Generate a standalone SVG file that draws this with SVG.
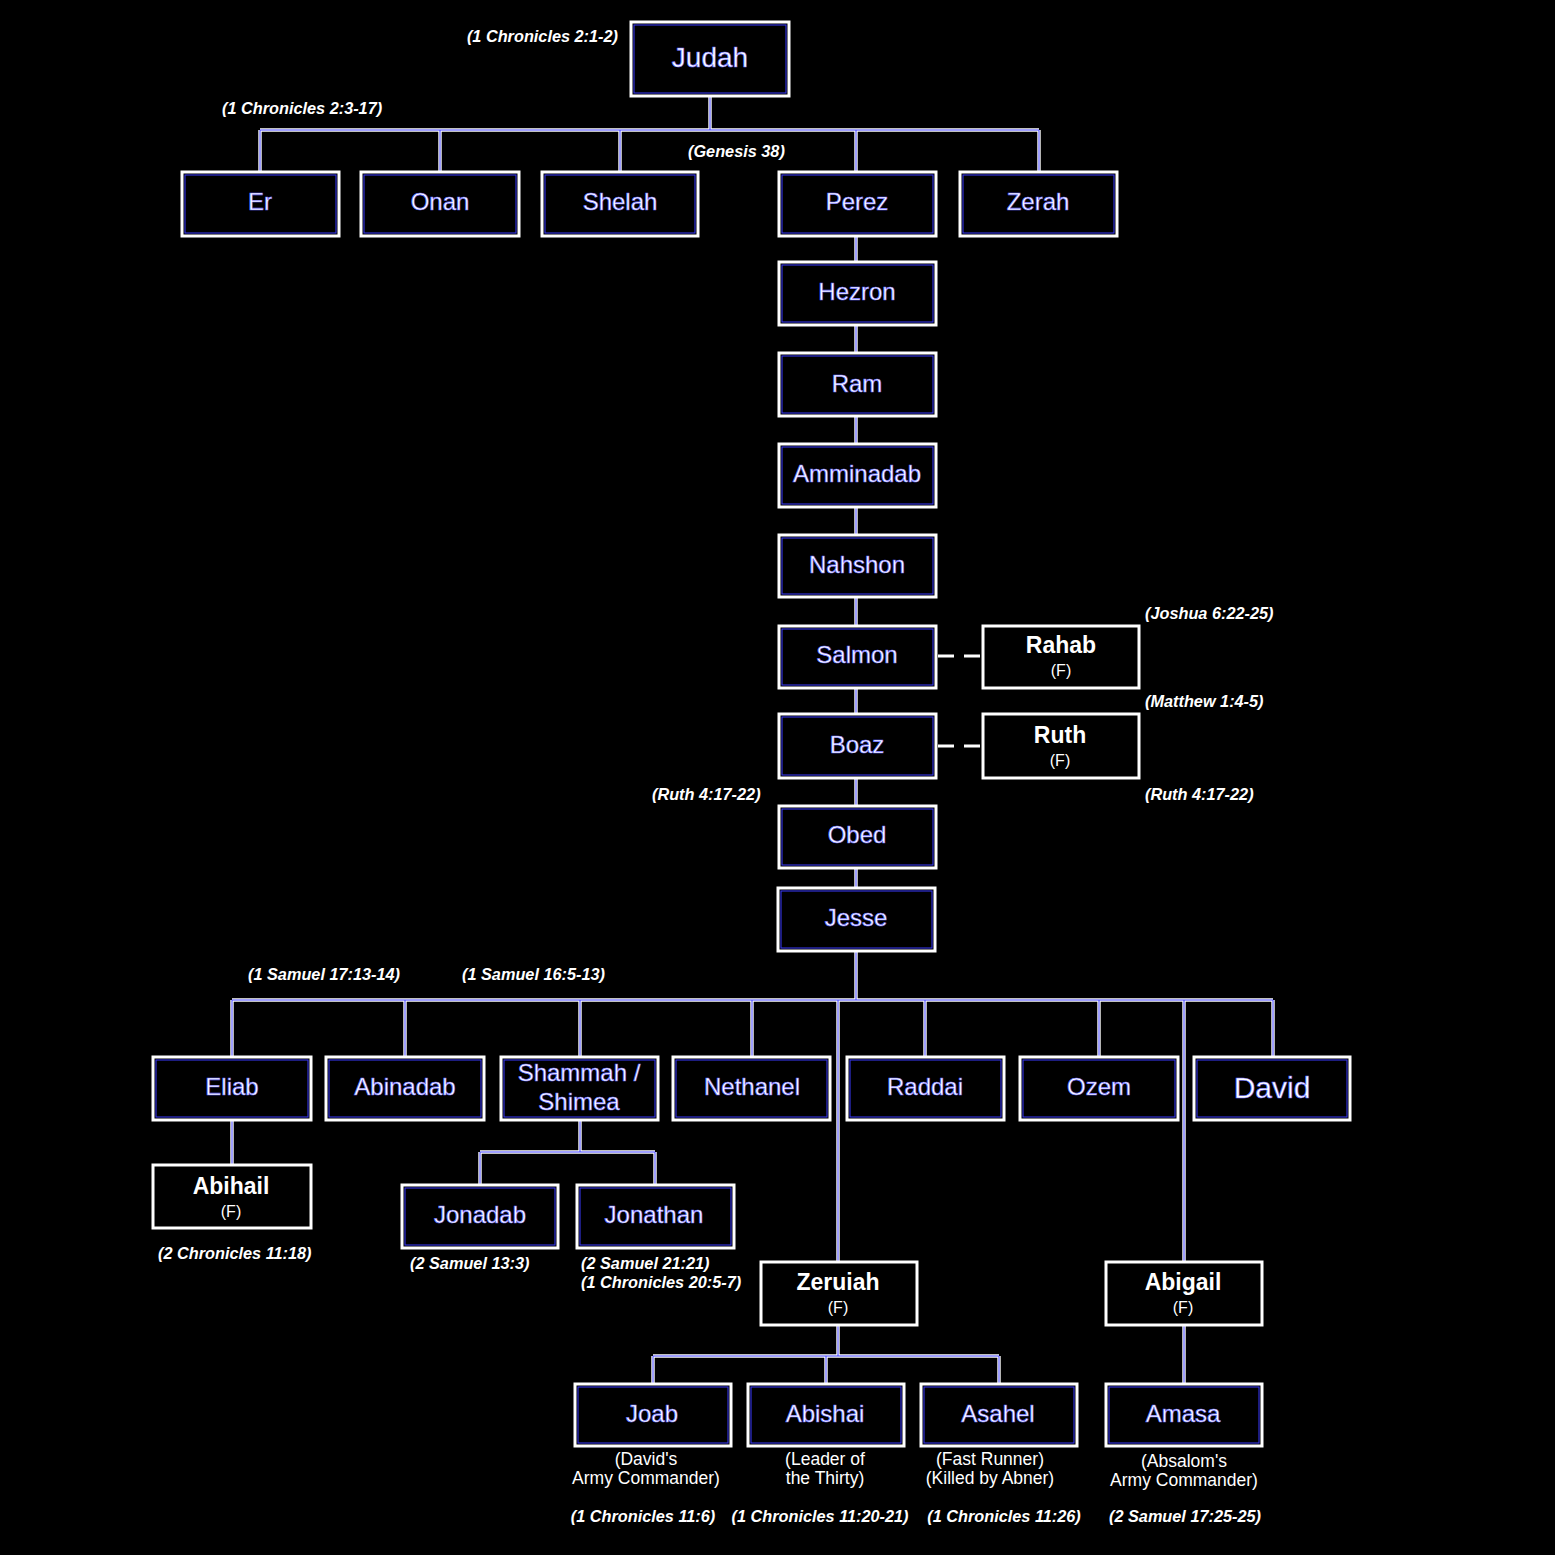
<svg xmlns="http://www.w3.org/2000/svg" width="1555" height="1555" viewBox="0 0 1555 1555">
<style>
.bx{fill:#000;stroke:#fff;stroke-width:3}
.bi{fill:none;stroke:#3a3aff;stroke-width:1}
.fx{fill:#000;stroke:#fff;stroke-width:3}
.ln{fill:none;stroke:#fff;stroke-width:3.4}
.lb{fill:none;stroke:#4040ff;stroke-width:1}
.dl{fill:none;stroke:#fff;stroke-width:3;stroke-dasharray:16 10}
.nm{font-family:"Liberation Sans",Arial,sans-serif;font-size:24px;fill:#fff;stroke:#6a6aff;stroke-width:0.6;text-anchor:middle}
.fn{font-family:"Liberation Sans",Arial,sans-serif;font-size:23px;font-weight:bold;fill:#fff;text-anchor:middle}
.ff{font-family:"Liberation Sans",Arial,sans-serif;font-size:16px;fill:#fff;text-anchor:middle}
.ct{font-family:"Liberation Sans",Arial,sans-serif;font-size:16.3px;font-weight:bold;font-style:italic;fill:#fff}
.nt{font-family:"Liberation Sans",Arial,sans-serif;font-size:17.5px;fill:#fff;text-anchor:middle}
</style>
<rect width="1555" height="1555" fill="#000"/>
<g id="connectors">
<path class="ln" d="M710 96V130M260 130H1039M260 130V172M440 130V172M620 130V172M856 130V172M1039 130V172"/>
<path class="ln" d="M856 236V888"/>
<path class="ln" d="M856 951V1000M232 1000H1273M232 1000V1057M405 1000V1057M580 1000V1057M752 1000V1057M925 1000V1057M1099 1000V1057M1273 1000V1057M838 1000V1262M1184 1000V1262"/>
<path class="ln" d="M232 1120V1165M580 1120V1152M480 1152H655M480 1152V1185M655 1152V1185"/>
<path class="ln" d="M838 1325V1356M653 1356H999M653 1356V1384M826 1356V1384M999 1356V1384M1184 1325V1384"/>
<path class="lb" d="M710 96V130M260 130H1039M260 130V172M440 130V172M620 130V172M856 130V172M1039 130V172M856 236V888M856 951V1000M232 1000H1273M232 1000V1057M405 1000V1057M580 1000V1057M752 1000V1057M925 1000V1057M1099 1000V1057M1273 1000V1057M838 1000V1262M1184 1000V1262M232 1120V1165M580 1120V1152M480 1152H655M480 1152V1185M655 1152V1185M838 1325V1356M653 1356H999M653 1356V1384M826 1356V1384M999 1356V1384M1184 1325V1384"/>
<path class="dl" d="M938 656H983M938 746H983"/>
</g>
<g id="citations">
<text class="ct" x="618" y="42" text-anchor="end">(1 Chronicles 2:1-2)</text>
<text class="ct" x="222" y="114">(1 Chronicles 2:3-17)</text>
<text class="ct" x="688" y="157">(Genesis 38)</text>
<text class="ct" x="1145" y="619">(Joshua 6:22-25)</text>
<text class="ct" x="1145" y="707">(Matthew 1:4-5)</text>
<text class="ct" x="1145" y="800">(Ruth 4:17-22)</text>
<text class="ct" x="652" y="800">(Ruth 4:17-22)</text>
<text class="ct" x="248" y="980">(1 Samuel 17:13-14)</text>
<text class="ct" x="462" y="980">(1 Samuel 16:5-13)</text>
<text class="ct" x="158" y="1259">(2 Chronicles 11:18)</text>
<text class="ct" x="410" y="1269">(2 Samuel 13:3)</text>
<text class="ct" x="581" y="1269">(2 Samuel 21:21)</text>
<text class="ct" x="581" y="1288">(1 Chronicles 20:5-7)</text>
<text class="ct" x="643" y="1522" text-anchor="middle">(1 Chronicles 11:6)</text>
<text class="ct" x="820" y="1522" text-anchor="middle">(1 Chronicles 11:20-21)</text>
<text class="ct" x="1004" y="1522" text-anchor="middle">(1 Chronicles 11:26)</text>
<text class="ct" x="1185" y="1522" text-anchor="middle">(2 Samuel 17:25-25)</text>
</g>
<g id="judah"><rect class="bx" x="631" y="22" width="158" height="74"/><rect class="bi" x="634" y="25" width="152" height="68"/><text class="nm" x="710" y="67" style="font-size:28px">Judah</text></g>
<g id="er"><rect class="bx" x="182" y="172" width="157" height="64"/><rect class="bi" x="185" y="175" width="151" height="58"/><text class="nm" x="260" y="210">Er</text></g>
<g id="onan"><rect class="bx" x="361" y="172" width="158" height="64"/><rect class="bi" x="364" y="175" width="152" height="58"/><text class="nm" x="440" y="210">Onan</text></g>
<g id="shelah"><rect class="bx" x="542" y="172" width="156" height="64"/><rect class="bi" x="545" y="175" width="150" height="58"/><text class="nm" x="620" y="210">Shelah</text></g>
<g id="perez"><rect class="bx" x="779" y="172" width="157" height="64"/><rect class="bi" x="782" y="175" width="151" height="58"/><text class="nm" x="857" y="210">Perez</text></g>
<g id="zerah"><rect class="bx" x="960" y="172" width="157" height="64"/><rect class="bi" x="963" y="175" width="151" height="58"/><text class="nm" x="1038" y="210">Zerah</text></g>
<g id="hezron"><rect class="bx" x="779" y="262" width="157" height="63"/><rect class="bi" x="782" y="265" width="151" height="57"/><text class="nm" x="857" y="300">Hezron</text></g>
<g id="ram"><rect class="bx" x="779" y="353" width="157" height="63"/><rect class="bi" x="782" y="356" width="151" height="57"/><text class="nm" x="857" y="392">Ram</text></g>
<g id="amminadab"><rect class="bx" x="779" y="444" width="157" height="63"/><rect class="bi" x="782" y="447" width="151" height="57"/><text class="nm" x="857" y="482">Amminadab</text></g>
<g id="nahshon"><rect class="bx" x="779" y="535" width="157" height="62"/><rect class="bi" x="782" y="538" width="151" height="56"/><text class="nm" x="857" y="573">Nahshon</text></g>
<g id="salmon"><rect class="bx" x="779" y="626" width="157" height="62"/><rect class="bi" x="782" y="629" width="151" height="56"/><text class="nm" x="857" y="663">Salmon</text></g>
<g id="rahab"><rect class="fx" x="983" y="626" width="156" height="62"/><text class="fn" x="1061" y="653">Rahab</text><text class="ff" x="1061" y="676">(F)</text></g>
<g id="boaz"><rect class="bx" x="779" y="714" width="157" height="64"/><rect class="bi" x="782" y="717" width="151" height="58"/><text class="nm" x="857" y="753">Boaz</text></g>
<g id="ruth"><rect class="fx" x="983" y="714" width="156" height="64"/><text class="fn" x="1060" y="743">Ruth</text><text class="ff" x="1060" y="766">(F)</text></g>
<g id="obed"><rect class="bx" x="779" y="806" width="157" height="62"/><rect class="bi" x="782" y="809" width="151" height="56"/><text class="nm" x="857" y="843">Obed</text></g>
<g id="jesse"><rect class="bx" x="778" y="888" width="157" height="63"/><rect class="bi" x="781" y="891" width="151" height="57"/><text class="nm" x="856" y="926">Jesse</text></g>
<g id="eliab"><rect class="bx" x="153" y="1057" width="158" height="63"/><rect class="bi" x="156" y="1060" width="152" height="57"/><text class="nm" x="232" y="1095">Eliab</text></g>
<g id="abinadab"><rect class="bx" x="326" y="1057" width="158" height="63"/><rect class="bi" x="329" y="1060" width="152" height="57"/><text class="nm" x="405" y="1095">Abinadab</text></g>
<g id="shammah"><rect class="bx" x="501" y="1057" width="157" height="63"/><rect class="bi" x="504" y="1060" width="151" height="57"/><text class="nm" x="579" y="1081">Shammah /</text><text class="nm" x="579" y="1110">Shimea</text></g>
<g id="nethanel"><rect class="bx" x="673" y="1057" width="157" height="63"/><rect class="bi" x="676" y="1060" width="151" height="57"/><text class="nm" x="752" y="1095">Nethanel</text></g>
<g id="raddai"><rect class="bx" x="847" y="1057" width="157" height="63"/><rect class="bi" x="850" y="1060" width="151" height="57"/><text class="nm" x="925" y="1095">Raddai</text></g>
<g id="ozem"><rect class="bx" x="1020" y="1057" width="158" height="63"/><rect class="bi" x="1023" y="1060" width="152" height="57"/><text class="nm" x="1099" y="1095">Ozem</text></g>
<g id="david"><rect class="bx" x="1194" y="1057" width="156" height="63"/><rect class="bi" x="1197" y="1060" width="150" height="57"/><text class="nm" x="1272" y="1098" style="font-size:30px">David</text></g>
<g id="abihail"><rect class="fx" x="153" y="1165" width="158" height="63"/><text class="fn" x="231" y="1194">Abihail</text><text class="ff" x="231" y="1217">(F)</text></g>
<g id="jonadab"><rect class="bx" x="402" y="1185" width="156" height="63"/><rect class="bi" x="405" y="1188" width="150" height="57"/><text class="nm" x="480" y="1223">Jonadab</text></g>
<g id="jonathan"><rect class="bx" x="577" y="1185" width="157" height="63"/><rect class="bi" x="580" y="1188" width="151" height="57"/><text class="nm" x="654" y="1223">Jonathan</text></g>
<g id="zeruiah"><rect class="fx" x="761" y="1262" width="156" height="63"/><text class="fn" x="838" y="1290">Zeruiah</text><text class="ff" x="838" y="1313">(F)</text></g>
<g id="abigail"><rect class="fx" x="1106" y="1262" width="156" height="63"/><text class="fn" x="1183" y="1290">Abigail</text><text class="ff" x="1183" y="1313">(F)</text></g>
<g id="joab"><rect class="bx" x="575" y="1384" width="156" height="62"/><rect class="bi" x="578" y="1387" width="150" height="56"/><text class="nm" x="652" y="1422">Joab</text><text class="nt" x="646" y="1465">(David's</text><text class="nt" x="646" y="1484">Army Commander)</text></g>
<g id="abishai"><rect class="bx" x="748" y="1384" width="156" height="62"/><rect class="bi" x="751" y="1387" width="150" height="56"/><text class="nm" x="825" y="1422">Abishai</text><text class="nt" x="825" y="1465">(Leader of</text><text class="nt" x="825" y="1484">the Thirty)</text></g>
<g id="asahel"><rect class="bx" x="921" y="1384" width="156" height="62"/><rect class="bi" x="924" y="1387" width="150" height="56"/><text class="nm" x="998" y="1422">Asahel</text><text class="nt" x="990" y="1465">(Fast Runner)</text><text class="nt" x="990" y="1484">(Killed by Abner)</text></g>
<g id="amasa"><rect class="bx" x="1106" y="1384" width="156" height="62"/><rect class="bi" x="1109" y="1387" width="150" height="56"/><text class="nm" x="1183" y="1422">Amasa</text><text class="nt" x="1184" y="1467">(Absalom's</text><text class="nt" x="1184" y="1486">Army Commander)</text></g>
</svg>
